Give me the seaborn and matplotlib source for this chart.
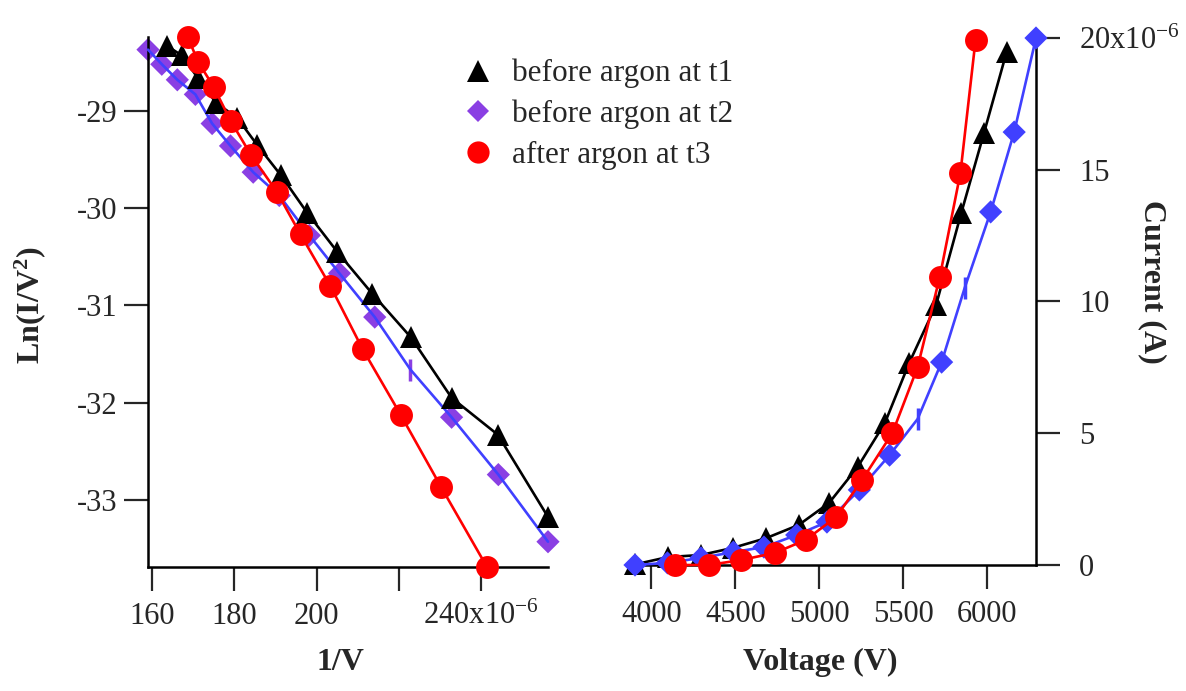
import matplotlib
matplotlib.use('Agg')
import matplotlib.pyplot as plt
from matplotlib.lines import Line2D
import seaborn as sns

# before argon at t1 (triangles)
t1_volt = [6115, 5980, 5845, 5695, 5535, 5390, 5228, 5057, 4877, 4683, 4485, 4295, 4097, 3901]
t1_current = [19.47, 16.39, 13.36, 9.87, 7.67, 5.39, 3.72, 2.35, 1.52, 1.02, 0.65, 0.38, 0.30, 0.02]  # uA
t1_ln = [-28.33, -28.43, -28.66, -28.92, -29.07, -29.35, -29.66, -30.05, -30.45, -30.88, -31.33, -31.95, -32.33, -33.18]

# before argon at t2 (diamonds)
t2_volt = [6290, 6160, 6020, 5865, 5728, 5585, 5418, 5238, 5045, 4865, 4670, 4488, 4295, 4095, 3902]
t2_current = [20.0, 16.43, 13.4, 10.51, 7.70, 5.54, 4.17, 2.85, 1.63, 1.14, 0.68, 0.49, 0.27, 0.08, 0.0]
t2_ln = [-28.37, -28.52, -28.68, -28.83, -29.13, -29.36, -29.63, -29.87, -30.28, -30.67, -31.12, -31.66, -32.15, -32.74, -33.43]
# points that show up as a small tick instead of a diamond
t2_tick_left = [11]
t2_tick_right = [3, 5]

# after argon at t3 (circles)
t3_volt = [5930, 5840, 5717, 5585, 5435, 5255, 5100, 4918, 4735, 4535, 4342, 4142]
t3_current = [19.92, 14.88, 10.93, 7.51, 5.01, 3.23, 1.82, 0.95, 0.46, 0.19, 0.0, 0.0]
t3_ln = [-28.24, -28.50, -28.75, -29.10, -29.45, -29.83, -30.27, -30.80, -31.45, -32.13, -32.87, -33.69]

labels = ['before argon at t1', 'before argon at t2', 'after argon at t3']
left_xticks = [160, 180, 200, 220, 240]
left_xticklabels = ['160', '180', '200', '', '240x10$^{-6}$']
left_yticks = [-33, -32, -31, -30, -29]
right_xticks = [4000, 4500, 5000, 5500, 6000]
right_yticks = [0, 5, 10, 15, 20]
right_yticklabels = ['0', '5', '10', '15', '20x10$^{-6}$']

BLACK = '#000000'
PURPLE = '#8A3FE3'
BLUE = '#4040FF'
RED = '#FF0000'

sns.set_theme(style='white')
plt.rcParams['font.family'] = ['Liberation Serif', 'DejaVu Serif']
plt.rcParams['mathtext.fontset'] = 'custom'
plt.rcParams['mathtext.rm'] = 'Liberation Serif'
plt.rcParams['mathtext.bf'] = 'Liberation Serif:bold'
plt.rcParams['mathtext.it'] = 'Liberation Serif:italic'
plt.rcParams['axes.unicode_minus'] = False

W, H = 1186, 691
fig = plt.figure(figsize=(W / 100, H / 100), dpi=100)
axL = fig.add_axes([148 / W, 124 / H, 400 / W, 530 / H])
axR = fig.add_axes([635 / W, 126 / H, 401 / W, 527 / H])

inv = lambda v: [1e6 / x for x in v]
line_kw = dict(lw=1.9, clip_on=False, sort=False, estimator=None, errorbar=None, legend=False)

# ---- left: ln(I/V^2) against 1/V
t2_keep_L = [i for i in range(len(t2_volt)) if i not in t2_tick_left]
sns.scatterplot(x=[inv(t2_volt)[i] for i in t2_keep_L], y=[t2_ln[i] for i in t2_keep_L], ax=axL,
                marker='D', s=140, color=PURPLE, edgecolor='none', clip_on=False, zorder=2, legend=False)
axL.plot([inv(t2_volt)[i] for i in t2_tick_left], [t2_ln[i] for i in t2_tick_left], ls='none',
         marker='|', ms=16, mew=2.5, color=PURPLE, zorder=2)
sns.lineplot(x=inv(t2_volt), y=t2_ln, ax=axL, color=BLUE, zorder=3, **line_kw)
sns.lineplot(x=inv(t1_volt), y=t1_ln, ax=axL, color=BLACK, marker='^', ms=16.5, mec=BLACK, mew=0,
             zorder=4, **line_kw)
sns.lineplot(x=inv(t3_volt), y=t3_ln, ax=axL, color=RED, marker='o', ms=16.5, mec=RED, mew=0,
             zorder=5, **line_kw)

axL.set_xlim(1e6 / max(t2_volt), 1e6 / min(t2_volt))
axL.set_ylim(min(t3_ln), max(t3_ln))
axL.set_xticks(left_xticks)
axL.set_xticklabels(left_xticklabels)
axL.set_yticks(left_yticks)
axL.set_xlabel('')
axL.set_ylabel('')
for s in ['top', 'right']:
    axL.spines[s].set_visible(False)
axL.tick_params(axis='x', direction='out', length=17, width=1.6, labelsize=22, pad=8, bottom=True)
axL.tick_params(axis='y', direction='out', length=17, width=1.6, labelsize=22, pad=5, left=True)

# ---- right: current against voltage
sns.lineplot(x=t1_volt, y=t1_current, ax=axR, color=BLACK, marker='^', ms=16.5, mec=BLACK, mew=0,
             zorder=3, **line_kw)
t2_keep_R = [i for i in range(len(t2_volt)) if i not in t2_tick_right]
sns.lineplot(x=t2_volt, y=t2_current, ax=axR, color=BLUE, zorder=4, **line_kw)
sns.scatterplot(x=[t2_volt[i] for i in t2_keep_R], y=[t2_current[i] for i in t2_keep_R], ax=axR,
                marker='D', s=140, color=BLUE, edgecolor='none', clip_on=False, zorder=4, legend=False)
axR.plot([t2_volt[i] for i in t2_tick_right], [t2_current[i] for i in t2_tick_right], ls='none',
         marker='|', ms=16, mew=2.5, color=BLUE, zorder=4)
sns.lineplot(x=t3_volt, y=t3_current, ax=axR, color=RED, marker='o', ms=16.5, mec=RED, mew=0,
             zorder=5, **line_kw)

axR.set_xlim(min(t2_volt), max(t2_volt))
axR.set_ylim(0, 20)
axR.set_xticks(right_xticks)
axR.set_yticks(right_yticks)
axR.set_yticklabels(right_yticklabels)
axR.set_xlabel('')
axR.set_ylabel('')
axR.yaxis.tick_right()
for s in ['top', 'left']:
    axR.spines[s].set_visible(False)
axR.tick_params(axis='x', direction='out', length=17, width=1.6, labelsize=22, pad=8, bottom=True)
axR.tick_params(axis='y', direction='out', length=17, width=1.6, labelsize=22, pad=14, right=True)

for ax in (axL, axR):
    for sp in ax.spines.values():
        sp.set_linewidth(1.8)
        sp.set_color('black')

# axis titles
fig.text(340 / W, 1 - 662 / H, '1/V', ha='center', va='center', fontsize=23, fontweight='bold')
fig.text(820 / W, 1 - 662 / H, 'Voltage (V)', ha='center', va='center', fontsize=23, fontweight='bold')
fig.text(30 / W, 1 - 305 / H, 'Ln(I/V$^{\\mathbf{2}}$)', ha='center', va='center', rotation=90,
         fontsize=23, fontweight='bold')
fig.text(1152 / W, 1 - 282 / H, 'Current (A)', ha='center', va='center', rotation=-90,
         fontsize=23, fontweight='bold')

handles = [
    Line2D([], [], ls='none', marker='^', ms=16, color=BLACK, mew=0),
    Line2D([], [], ls='none', marker='D', ms=11.5, color=PURPLE, mew=0),
    Line2D([], [], ls='none', marker='o', ms=16, color=RED, mew=0),
]
fig.legend(handles, labels, loc='upper left', bbox_to_anchor=(462 / W, 1 - 59 / H),
           frameon=False, fontsize=22.5, handlelength=1.0, handletextpad=0.6,
           labelspacing=0.36, borderpad=0, borderaxespad=0)

fig.savefig('out.png', dpi=100)
